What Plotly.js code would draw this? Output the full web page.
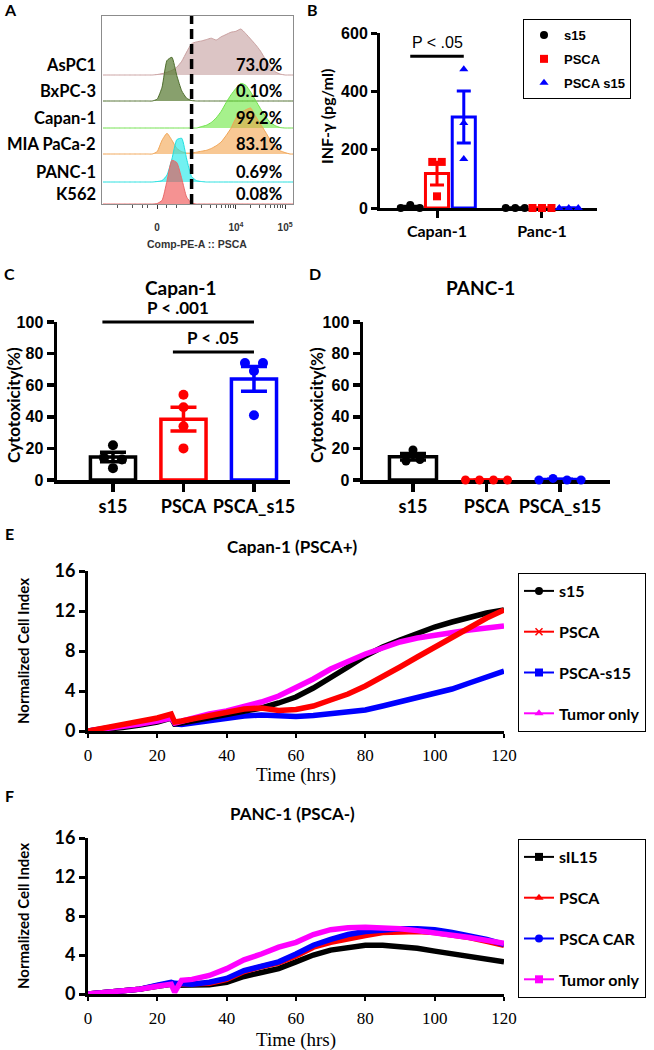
<!DOCTYPE html>
<html>
<head>
<meta charset="utf-8">
<script src="https://cdn.plot.ly/plotly-3.0.1.min.js"></script>
<style>html,body{margin:0;padding:0;background:#fff}#chart{width:654px;height:1050px}</style>
</head>
<body>
<div id="chart"></div>
<script>
// ================= DATA =================
// Panel A: PSCA flow histograms (mode-normalised counts on the biexponential display scale)
const flowChannels = [1.3,1.4,1.5,1.6,1.7,1.8,1.9,2.0,2.1,2.2,2.3,2.4,2.5,2.6,2.7,2.8,2.9,3.0,3.1,3.2,3.3,3.4,3.5,3.6,3.7,3.8,3.9,4.0,4.1,4.2,4.3,4.4,4.5,4.6,4.7,4.8,4.9,5.0,5.1,5.2];
const flowLines = ['AsPC1','BxPC-3','Capan-1','MIA PaCa-2','PANC-1','K562'];
const flowPositive = ['73.0%','0.10%','99.2%','83.1%','0.69%','0.08%'];
const histAsPC1 = [0,0,0,0,0,0,0,0,0,0,0,0.01,0.03,0.06,0.10,0.17,0.30,0.50,0.68,0.72,0.74,0.77,0.80,0.76,0.83,0.88,0.93,0.95,1.00,0.90,0.78,0.66,0.52,0.34,0.18,0.07,0.02,0,0,0];
const histBxPC3 = [0,0,0,0,0,0,0,0,0,0,0,0.04,0.30,0.88,0.95,0.55,0.22,0.06,0.01,0,0,0,0,0,0,0,0,0,0,0,0,0,0,0,0,0,0,0,0,0];
const histCapan1 = [0,0,0,0,0,0,0,0,0,0,0,0,0,0,0,0,0,0,0,0,0.03,0.06,0.12,0.22,0.36,0.55,0.72,0.86,0.97,0.93,0.78,0.60,0.42,0.25,0.12,0.05,0.01,0,0,0];
const histMIAPaCa2 = [0,0,0,0,0,0,0,0,0,0,0,0.05,0.30,0.45,0.30,0.12,0.05,0.02,0.02,0.04,0.06,0.08,0.12,0.18,0.26,0.40,0.56,0.78,0.90,0.96,1.00,0.82,0.65,0.48,0.30,0.15,0.07,0.03,0,0];
const histPANC1 = [0,0,0,0,0,0,0,0,0,0,0,0.01,0.03,0.15,0.50,0.92,0.95,0.50,0.12,0.03,0.01,0,0,0,0,0,0,0,0,0,0,0,0,0,0,0,0,0,0,0];
const histK562 = [0,0,0,0,0,0,0,0,0,0,0,0.01,0.08,0.50,0.95,0.90,0.55,0.15,0.02,0,0,0,0,0,0,0,0,0,0,0,0,0,0,0,0,0,0,0,0,0];
const flowTickVals = [2.4, 4, 5];
const flowTickText = ['0', '10<sup>4</sup>', '10<sup>5</sup>'];
const pscaGate = 3.1;

// Panel B: IFN-gamma (pg/ml)
const cellLinesB = ['Capan-1', 'Panc-1'];
const seriesB = ['s15', 'PSCA', 'PSCA s15'];
const ifnPoints = [
  [[0, 10, 0], [0, 0, 0]],
  [[158, 158, 40], [0, 0, 0]],
  [[476, 291, 168], [0, 0, 0]]
];
const ifnMean = [[3, 0], [118, 0], [312, 0]];
const ifnSEM = [[3, 0], [39, 0], [89, 0]];
const sigB = [{text: 'P < .05', group: 0, from: 0, to: 2, level: 520}];

// Panels C & D: cytotoxicity (%)
const cytoGroups = ['s15', 'PSCA', 'PSCA_s15'];
const capanPoints = [[22, 14, 13, 7.5], [54, 46, 34, 20], [74, 74, 69, 41]];
const capanMean = [14.5, 38.5, 64];
const capanSEM = [3.0, 7.5, 7.8];
const sigC = [{text: 'P < .001', from: 0, to: 2, level: 100}, {text: 'P < .05', from: 1, to: 2, level: 81}];
const panc1Points = [[19, 12, 13], [0, 0, 0, 0], [0, 1, 0, 0]];
const panc1Mean = [14.7, 0, 0.25];
const panc1SEM = [2.0, 0, 0.25];

// Panels E & F: normalised cell index over time
const timeHrs = [0,5,10,15,20,24,25,27,30,35,40,45,50,55,60,65,70,75,80,85,90,95,100,105,110,115,120];
const capanS15 = [0,0.15,0.35,0.6,0.9,1.3,0.7,0.8,1.0,1.3,1.6,1.9,2.3,2.8,3.4,4.3,5.3,6.4,7.5,8.4,9.1,9.8,10.4,10.9,11.4,11.8,12.1];
const capanPSCA = [0,0.3,0.6,0.95,1.3,1.7,0.9,1.0,1.2,1.5,1.8,2.2,2.3,2.05,2.15,2.5,3.1,3.7,4.5,5.4,6.4,7.4,8.4,9.4,10.4,11.3,12.1];
const capanPSCAs15 = [0,0.25,0.5,0.8,1.1,1.5,0.7,0.65,0.8,1.0,1.2,1.5,1.6,1.5,1.45,1.55,1.7,1.85,2.1,2.5,2.9,3.3,3.7,4.2,4.8,5.4,6.0];
const capanTumor = [0,0.2,0.45,0.7,1.0,1.3,0.8,1.0,1.3,1.7,2.0,2.4,2.9,3.5,4.3,5.2,6.2,7.0,7.7,8.3,8.9,9.3,9.6,9.9,10.1,10.3,10.5];
const capanNames = ['s15', 'PSCA', 'PSCA-s15', 'Tumor only'];
const panc1IL15 = [0,0.15,0.3,0.5,0.8,1.0,0.9,0.9,0.95,0.95,1.2,1.8,2.2,2.6,3.3,4.0,4.5,4.8,5.0,5.0,4.9,4.7,4.4,4.1,3.8,3.6,3.3];
const panc1PSCA = [0,0.15,0.3,0.5,0.85,1.1,1.0,1.0,1.0,1.1,1.5,2.3,2.8,3.2,3.9,4.8,5.3,5.7,6.0,6.3,6.4,6.4,6.3,6.1,5.8,5.4,5.0];
const panc1CAR = [0,0.15,0.3,0.5,0.9,1.2,1.1,1.05,1.0,1.2,1.6,2.4,2.9,3.3,4.1,5.0,5.6,6.1,6.4,6.6,6.7,6.7,6.6,6.3,6.0,5.6,5.1];
const panc1Tumor = [0,0.15,0.3,0.5,0.8,1.0,0.2,1.4,1.5,1.9,2.6,3.5,4.1,4.8,5.3,6.1,6.6,6.8,6.85,6.8,6.7,6.5,6.3,6.0,5.8,5.5,5.2];
const panc1Names = ['sIL15', 'PSCA', 'PSCA CAR', 'Tumor only'];

// ================= LAYOUT HELPERS =================
const W = 654, H = 1050;
const LATO = 'Lato, "Open Sans", sans-serif';
const ARIAL = '"Liberation Sans", Arial, sans-serif';
const SERIF = '"Liberation Serif", "Times New Roman", serif';
const px = v => v / W;
const py = v => 1 - v / H;
const dom = (topPx, bottomPx) => [1 - bottomPx / H, 1 - topPx / H];
const yToPaper = (ax, v) => ax.domain[0] + (v - ax.range[0]) / (ax.range[1] - ax.range[0]) * (ax.domain[1] - ax.domain[0]);
const pxPerUnitY = ax => (ax.domain[1] - ax.domain[0]) * H / (ax.range[1] - ax.range[0]);
const pxPerUnitX = ax => (ax.domain[1] - ax.domain[0]) * W / (ax.range[1] - ax.range[0]);

function txt(text, x, y, size, o = {}) {
  return {text, xref: 'paper', yref: 'paper', x: px(x), y: py(y),
    xanchor: o.xanchor || 'center', yanchor: o.yanchor || 'middle', showarrow: false,
    textangle: o.angle || 0,
    font: {family: o.family || LATO, size, weight: o.weight === undefined ? 700 : o.weight, color: o.color || '#000'}};
}

function swarmOffsets(vals, pxY, spacing) {
  const idx = vals.map((v, i) => i).sort((a, b) => vals[a] - vals[b]);
  const off = vals.map(() => 0);
  let cluster = [idx[0]];
  const flush = () => {
    const c = cluster.slice().sort((a, b) => a - b);
    c.forEach((i, j) => { off[i] = (j - (c.length - 1) / 2) * spacing; });
  };
  for (let k = 1; k < idx.length; k++) {
    if ((vals[idx[k]] - vals[idx[k - 1]]) * pxY < 6) cluster.push(idx[k]);
    else { flush(); cluster = [idx[k]]; }
  }
  flush();
  return off;
}

const traces = [];
const annotations = [];
const shapes = [];
const layout = {
  width: W, height: H, margin: {l: 0, r: 0, t: 0, b: 0},
  paper_bgcolor: '#fff', plot_bgcolor: 'rgba(0,0,0,0)',
  barmode: 'overlay', showlegend: true, hovermode: false,
  font: {family: ARIAL, color: '#000'}
};

// ================= PANEL A =================
const hists = [histAsPC1, histBxPC3, histCapan1, histMIAPaCa2, histPANC1, histK562];
const rowBase = [75, 101, 128, 154, 182, 204];
const rowFill = ['rgba(185,139,139,0.5)', 'rgba(85,119,47,0.7)', 'rgba(92,230,46,0.55)', 'rgba(242,154,61,0.55)', 'rgba(20,232,232,0.6)', 'rgba(238,74,74,0.6)'];
const rowLine = ['#c9a0a0', '#4f6e2e', '#6ee04a', '#f0a455', '#22dede', '#e86a6a'];
const HS = 46, RLO = -0.03, RHI = 1.05;
layout.xaxis = {domain: [px(102), px(293)], range: [1.28, 5.16], anchor: 'y7',
  showline: true, mirror: true, linecolor: '#8c8c8c', linewidth: 1,
  ticks: 'outside', ticklen: 4, tickwidth: 1, tickcolor: '#333',
  tickvals: flowTickVals, ticktext: flowTickText, ticklabelstandoff: 10,
  tickfont: {family: ARIAL, size: 10, weight: 700, color: '#333'},
  minor: {tickvals: [3.3, 3.48, 3.6, 3.7, 3.78, 3.85, 3.9, 3.95, 4.3, 4.48, 4.6, 4.7, 4.78, 4.85, 4.9, 4.95, 1.6, 1.9, 2.1, 2.2, 2.6, 2.8], ticks: 'outside', ticklen: 2.5, tickcolor: '#555', tickwidth: 1},
  showgrid: false, zeroline: false, fixedrange: true};
layout.yaxis7 = {domain: dom(16, 204), range: [0, 1], anchor: 'x', showline: true, mirror: true,
  linecolor: '#8c8c8c', linewidth: 1, ticks: '', showticklabels: false, showgrid: false, zeroline: false};
// frame subplot carrying the gate / box
traces.push({type: 'scatter', mode: 'none', x: [null], y: [null], xaxis: 'x', yaxis: 'y7', showlegend: false, hoverinfo: 'skip'});
hists.forEach((h, k) => {
  const yname = k === 0 ? 'yaxis' : 'yaxis' + (k + 1);
  const yid = k === 0 ? 'y' : 'y' + (k + 1);
  layout[yname] = {domain: dom(rowBase[k] - RHI * HS, rowBase[k] - RLO * HS), range: [RLO, RHI], anchor: 'x', visible: false};
  traces.push({type: 'scatter', mode: 'lines', x: flowChannels, y: h, xaxis: 'x', yaxis: yid,
    fill: 'tozeroy', fillcolor: rowFill[k], line: {color: rowLine[k], width: 1, shape: 'spline', smoothing: 0.5},
    showlegend: false, hoverinfo: 'skip'});
  annotations.push(txt(flowLines[k], 98, rowBase[k] - 10, 16.5, {xanchor: 'right'}));
  annotations.push(txt(flowPositive[k], 284, rowBase[k] - 10, 16.5, {xanchor: 'right'}));
});
shapes.push({type: 'line', xref: 'x', yref: 'paper', x0: pscaGate, x1: pscaGate, y0: py(204), y1: py(16),
  line: {color: '#000', width: 3.5, dash: '10px,5px'}});
annotations.push(txt('Comp-PE-A :: PSCA', 197, 244, 10.5, {family: ARIAL, color: '#333'}));
annotations.push(txt('A', 10, 10, 16));

// ================= PANEL B =================
const colors3 = ['#000000', '#ff0000', '#0000ff'];
const symB = ['circle', 'square', 'triangle-up'];
layout.xaxis2 = {domain: [px(380), px(597)], range: [-0.543, 1.524], anchor: 'y8',
  showline: true, linewidth: 3, linecolor: '#000', ticks: 'outside', ticklen: 7, tickwidth: 3, tickcolor: '#000',
  tickvals: [0, 1], ticktext: cellLinesB, tickfont: {family: LATO, size: 16, weight: 700},
  showgrid: false, zeroline: false, layer: 'below traces'};
layout.yaxis8 = {domain: dom(33, 208), range: [0, 600], anchor: 'x2',
  showline: true, linewidth: 3, linecolor: '#000', ticks: 'outside', ticklen: 6, tickwidth: 3, tickcolor: '#000',
  tickvals: [0, 200, 400, 600], tickfont: {family: ARIAL, size: 16, weight: 700},
  showgrid: false, zeroline: false, layer: 'below traces'};
const offB = s => (s - 1) * 0.255;
const pyB = pxPerUnitY(layout.yaxis8), pxB = pxPerUnitX(layout.xaxis2);
seriesB.forEach((name, s) => {
  traces.push({type: 'bar', x: cellLinesB.map((c, i) => i + offB(s)), y: ifnMean[s], width: 0.22,
    xaxis: 'x2', yaxis: 'y8', marker: {color: '#fff', line: {color: colors3[s], width: 3}},
    error_y: {type: 'data', array: ifnSEM[s], color: colors3[s], thickness: 3, width: 7},
    showlegend: false, hoverinfo: 'skip'});
  const xs = [], ys = [];
  ifnPoints[s].forEach((pts, c) => {
    const off = swarmOffsets(pts, pyB, 9.5 / pxB);
    pts.forEach((v, i) => { xs.push(c + offB(s) + off[i]); ys.push(v); });
  });
  traces.push({type: 'scatter', mode: 'markers', x: xs, y: ys, xaxis: 'x2', yaxis: 'y8', cliponaxis: false,
    marker: {symbol: symB[s], size: 8, color: colors3[s]}, name: name, legend: 'legend', legendgroup: 'b' + s});
});
sigB.forEach(g => {
  const yP = yToPaper(layout.yaxis8, g.level);
  const x0 = g.group + offB(g.from), x1 = g.group + offB(g.to);
  shapes.push({type: 'line', xref: 'x2', yref: 'paper', x0, x1, y0: yP, y1: yP, line: {color: '#000', width: 3}});
  annotations.push({text: g.text, xref: 'x2', yref: 'paper', x: (x0 + x1) / 2, y: yP, yanchor: 'bottom', yshift: 3,
    showarrow: false, font: {family: ARIAL, size: 16, weight: 400, color: '#000'}});
});
annotations.push(txt('INF-γ (pg/ml)', 326, 117, 16, {angle: -90}));
annotations.push(txt('B', 312, 10, 16));
layout.legend = {x: px(523), y: py(19), xanchor: 'left', yanchor: 'top', xref: 'paper', yref: 'paper',
  bgcolor: '#fff', bordercolor: '#000', borderwidth: 1, traceorder: 'grouped', tracegroupgap: 4,
  font: {family: ARIAL, size: 13, weight: 700, color: '#000'}};

// ================= PANELS C & D =================
function cytoPanel(xa, ya, xid, yid, xDom, xRange, pts, mean, sem, spacingPx, mSize) {
  layout[xa] = {domain: xDom, range: xRange, anchor: yid,
    showline: true, linewidth: 3.5, linecolor: '#000', ticks: 'outside', ticklen: 8, tickwidth: 3.5, tickcolor: '#000',
    tickvals: [0, 1, 2], ticktext: cytoGroups, tickfont: {family: LATO, size: 18, weight: 700},
    showgrid: false, zeroline: false, layer: 'below traces'};
  layout[ya] = {domain: dom(322, 480), range: [0, 100], anchor: xid,
    showline: true, linewidth: 3.5, linecolor: '#000', ticks: 'outside', ticklen: 7, tickwidth: 3.5, tickcolor: '#000',
    tickvals: [0, 20, 40, 60, 80, 100], tickfont: {family: ARIAL, size: 16, weight: 700},
    showgrid: false, zeroline: false, layer: 'below traces'};
  const pY = pxPerUnitY(layout[ya]), pX = pxPerUnitX(layout[xa]);
  cytoGroups.forEach((g, s) => {
    traces.push({type: 'bar', x: [s], y: [mean[s]], width: 0.64, xaxis: xid, yaxis: yid,
      marker: {color: '#fff', line: {color: colors3[s], width: 3.5}},
      error_y: {type: 'data', array: [sem[s]], color: colors3[s], thickness: 3.5, width: 13},
      showlegend: false, hoverinfo: 'skip'});
    const off = swarmOffsets(pts[s], pY, spacingPx / pX);
    traces.push({type: 'scatter', mode: 'markers', x: pts[s].map((v, i) => s + off[i]), y: pts[s],
      xaxis: xid, yaxis: yid, cliponaxis: false, marker: {size: mSize, color: colors3[s]},
      showlegend: false, hoverinfo: 'skip'});
  });
}
cytoPanel('xaxis3', 'yaxis9', 'x3', 'y9', [px(57), px(290)], [-0.794, 2.511], capanPoints, capanMean, capanSEM, 18, 10);
cytoPanel('xaxis4', 'yaxis10', 'x4', 'y10', [px(363), px(610)], [-0.68, 2.68], panc1Points, panc1Mean, panc1SEM, 14, 9);
sigC.forEach(g => {
  const yP = yToPaper(layout.yaxis9, g.level);
  const x0 = g.from - 0.15, x1 = g.to;
  shapes.push({type: 'line', xref: 'x3', yref: 'paper', x0, x1, y0: yP, y1: yP, line: {color: '#000', width: 3}});
  annotations.push({text: g.text, xref: 'x3', yref: 'paper', x: (x0 + x1) / 2, y: yP, yanchor: 'bottom', yshift: 2,
    showarrow: false, font: {family: LATO, size: 17, weight: 700, color: '#000'}});
});
annotations.push(txt('C', 9, 273, 16));
annotations.push(txt('D', 315, 273, 16));
annotations.push(txt('Capan-1', 180, 288, 19));
annotations.push(txt('PANC-1', 480, 288, 19));
annotations.push(txt('Cytotoxicity(%)', 14, 405, 17, {angle: -90}));
annotations.push(txt('Cytotoxicity(%)', 317, 405, 17, {angle: -90}));

// ================= PANELS E & F =================
function growthPanel(xa, ya, xid, yid, topPx, bottomPx, series, names, drawOrder, legendSymbols, legendId, lgTopPx) {
  layout[xa] = {domain: [px(88), px(504)], range: [0, 120], anchor: yid,
    showline: true, linewidth: 3, linecolor: '#000', ticks: 'outside', ticklen: 4, tickwidth: 2, tickcolor: '#000',
    tickvals: [0, 20, 40, 60, 80, 100, 120], tickfont: {family: SERIF, size: 17, color: '#000'}, ticklabelstandoff: 3,
    showgrid: false, zeroline: false};
  layout[ya] = {domain: dom(topPx, bottomPx), range: [0, 16], anchor: xid,
    showline: true, linewidth: 3, linecolor: '#000', ticks: 'outside', ticklen: 6, tickwidth: 3, tickcolor: '#000',
    tickvals: [0, 4, 8, 12, 16], tickfont: {family: LATO, size: 18, weight: 700},
    showgrid: false, zeroline: false};
  const lineColors = ['#000000', '#ff0000', '#0000ff', '#ff00ff'];
  drawOrder.forEach(i => {
    traces.push({type: 'scatter', mode: 'lines', x: timeHrs, y: series[i], xaxis: xid, yaxis: yid,
      line: {color: lineColors[i], width: 5.5}, showlegend: false, hoverinfo: 'skip'});
  });
  names.forEach((n, i) => {
    const sym = legendSymbols[i];
    traces.push({type: 'scatter', mode: 'lines+markers', x: [null], y: [null], xaxis: xid, yaxis: yid,
      name: n, legend: legendId, legendgroup: legendId + i,
      line: {color: lineColors[i], width: 2},
      marker: {symbol: sym, size: sym === 'x-thin' ? 7 : 8, color: lineColors[i], line: {color: lineColors[i], width: sym === 'x-thin' ? 1.5 : 0}}});
  });
  layout[legendId] = {x: px(518), y: py(lgTopPx), xanchor: 'left', yanchor: 'top', xref: 'paper', yref: 'paper',
    bgcolor: '#fff', bordercolor: '#000', borderwidth: 1, traceorder: 'grouped', tracegroupgap: 17,
    font: {family: LATO, size: 16, weight: 700, color: '#000'}};
}
growthPanel('xaxis5', 'yaxis11', 'x5', 'y11', 571, 731, [capanS15, capanPSCA, capanPSCAs15, capanTumor], capanNames,
  [2, 0, 3, 1], ['circle', 'x-thin', 'square', 'triangle-up'], 'legend2', 573);
growthPanel('xaxis6', 'yaxis12', 'x6', 'y12', 838, 994, [panc1IL15, panc1PSCA, panc1CAR, panc1Tumor], panc1Names,
  [0, 1, 2, 3], ['square', 'triangle-up', 'circle', 'square'], 'legend3', 839);
annotations.push(txt('E', 9, 533, 16));
annotations.push(txt('F', 9, 795, 16));
annotations.push(txt('Capan-1 (PSCA+)', 292, 546, 17));
annotations.push(txt('PANC-1 (PSCA-)', 292, 813, 17));
annotations.push(txt('Normalized Cell Index', 23, 651, 15, {angle: -90}));
annotations.push(txt('Normalized Cell Index', 23, 916, 15, {angle: -90}));
annotations.push(txt('Time (hrs)', 296, 775, 19, {family: SERIF, weight: 400}));
annotations.push(txt('Time (hrs)', 296, 1040, 19, {family: SERIF, weight: 400}));

layout.annotations = annotations;
layout.shapes = shapes;

Plotly.newPlot('chart', traces, layout, {staticPlot: true, displayModeBar: false});
</script>
</body>
</html>
